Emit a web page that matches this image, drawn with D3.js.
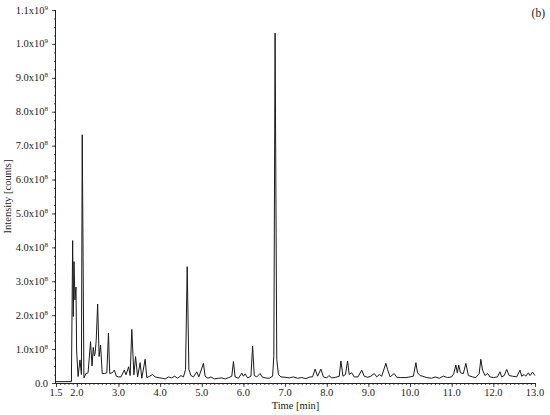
<!DOCTYPE html>
<html>
<head>
<meta charset="utf-8">
<script src="https://cdn.jsdelivr.net/npm/d3@7"></script>
<style>
html,body{margin:0;padding:0;background:#fff;}
svg{display:block;}
text{font-family:"Liberation Serif","DejaVu Serif",serif;fill:#222;}
</style>
</head>
<body>
<svg id="chart" width="550" height="415"></svg>
<script>
// Retention time [min]
const times = [1.50,1.87,1.90,1.915,1.932,1.955,1.98,1.995,2.03,2.076,2.11,2.13,2.17,2.22,2.27,2.33,2.365,2.395,2.42,2.44,2.465,2.50,2.535,2.57,2.61,2.66,2.72,2.76,2.79,2.85,2.90,2.95,3.00,3.06,3.14,3.18,3.245,3.28,3.32,3.37,3.41,3.46,3.52,3.56,3.64,3.68,3.75,3.82,3.88,3.95,4.05,4.12,4.20,4.27,4.35,4.42,4.50,4.56,4.61,4.65,4.69,4.74,4.80,4.88,4.93,5.04,5.08,5.15,5.22,5.30,5.40,5.48,5.56,5.65,5.72,5.76,5.80,5.88,5.96,6.00,6.04,6.10,6.18,6.22,6.26,6.32,6.40,6.45,6.52,6.62,6.70,6.73,6.76,6.80,6.84,6.90,7.00,7.10,7.20,7.30,7.40,7.50,7.60,7.66,7.72,7.78,7.86,7.92,8.00,8.05,8.12,8.22,8.30,8.34,8.39,8.45,8.50,8.54,8.60,8.66,8.75,8.84,8.90,8.98,9.06,9.14,9.20,9.26,9.32,9.42,9.46,9.52,9.62,9.68,9.78,9.90,10.00,10.08,10.14,10.18,10.24,10.30,10.40,10.52,10.60,10.70,10.80,10.90,11.00,11.05,11.10,11.135,11.17,11.21,11.28,11.34,11.40,11.50,11.58,11.66,11.70,11.74,11.80,11.86,11.92,12.00,12.10,12.16,12.20,12.26,12.32,12.38,12.46,12.56,12.64,12.68,12.74,12.78,12.84,12.88,12.94,13.00];
// Intensity [counts]
const intensities = [4e6,4e6,4.20e8,1.96e8,3.58e8,2.45e8,2.83e8,0.97e8,0.19e8,0.68e8,0.25e8,7.32e8,0.15e8,0.28e8,0.30e8,1.22e8,0.50e8,1.05e8,0.80e8,0.88e8,1.25e8,2.33e8,0.78e8,1.12e8,0.28e8,0.28e8,0.30e8,1.47e8,0.28e8,0.30e8,0.38e8,0.20e8,0.18e8,0.18e8,0.38e8,0.24e8,0.48e8,0.22e8,1.58e8,0.24e8,0.78e8,0.18e8,0.60e8,0.14e8,0.70e8,0.16e8,0.20e8,0.25e8,0.18e8,0.16e8,0.14e8,0.12e8,0.18e8,0.15e8,0.20e8,0.14e8,0.22e8,0.18e8,0.40e8,3.43e8,0.40e8,0.22e8,0.18e8,0.33e8,0.18e8,0.58e8,0.20e8,0.14e8,0.18e8,0.12e8,0.14e8,0.15e8,0.12e8,0.16e8,0.20e8,0.63e8,0.18e8,0.14e8,0.29e8,0.20e8,0.27e8,0.15e8,0.20e8,1.09e8,0.22e8,0.18e8,0.28e8,0.18e8,0.15e8,0.14e8,0.20e8,0.80e8,10.32e8,0.70e8,0.25e8,0.18e8,0.17e8,0.15e8,0.18e8,0.14e8,0.16e8,0.13e8,0.18e8,0.18e8,0.41e8,0.20e8,0.41e8,0.18e8,0.15e8,0.22e8,0.15e8,0.17e8,0.20e8,0.65e8,0.20e8,0.25e8,0.65e8,0.25e8,0.30e8,0.18e8,0.18e8,0.38e8,0.20e8,0.17e8,0.20e8,0.28e8,0.18e8,0.25e8,0.20e8,0.58e8,0.40e8,0.18e8,0.28e8,0.17e8,0.16e8,0.16e8,0.18e8,0.20e8,0.60e8,0.30e8,0.22e8,0.20e8,0.16e8,0.14e8,0.18e8,0.14e8,0.20e8,0.16e8,0.18e8,0.28e8,0.53e8,0.30e8,0.53e8,0.30e8,0.28e8,0.58e8,0.22e8,0.18e8,0.16e8,0.28e8,0.70e8,0.38e8,0.22e8,0.28e8,0.18e8,0.16e8,0.18e8,0.33e8,0.18e8,0.22e8,0.40e8,0.22e8,0.20e8,0.18e8,0.38e8,0.20e8,0.25e8,0.20e8,0.30e8,0.22e8,0.32e8,0.22e8];

const xMajorTicks = [1.5,2,3,4,5,6,7,8,9,10,11,12,13];
const xTickLabels = ["1.5","2.0","3.0","4.0","5.0","6.0","7.0","8.0","9.0","10.0","11.0","12.0","13.0"];
const yMajorTicks = [0,1e8,2e8,3e8,4e8,5e8,6e8,7e8,8e8,9e8,1e9,1.1e9];
const yTickMantissa = ["0.0","1.0","2.0","3.0","4.0","5.0","6.0","7.0","8.0","9.0","1.0","1.1"];
const yTickExponent = ["","8","8","8","8","8","8","8","8","8","9","9"];
const xTitle = "Time [min]";
const yTitle = "Intensity [counts]";
const panelLabel = "(b)";

const svg = d3.select("#chart");
const pLeft = 56, pRight = 535, pTop = 10, pBottom = 383;
const x = d3.scaleLinear().domain([1.5, 13]).range([pLeft, pRight]);
const y = d3.scaleLinear().domain([0, 1.1e9]).range([pBottom, pTop]);

const ink = "#222";

// minor ticks
const xMinor = d3.range(15, 131).map(d => d / 10);
const yMinor = d3.range(0, 45).map(d => d * 2.5e7);

const xAxisMinor = d3.axisBottom(x).tickValues(xMinor).tickSize(2).tickFormat("");
const xAxisMajor = d3.axisBottom(x).tickValues(xMajorTicks).tickSize(4).tickFormat("");
const yAxisMinor = d3.axisLeft(y).tickValues(yMinor).tickSize(2).tickFormat("");
const yAxisMajor = d3.axisLeft(y).tickValues(yMajorTicks).tickSize(4).tickFormat("");

function style(g){
  g.selectAll("path.domain").attr("stroke", ink).attr("stroke-width", 1);
  g.selectAll(".tick line").attr("stroke", ink).attr("stroke-width", 0.8);
}
svg.append("g").attr("transform", `translate(0,${pBottom})`).call(xAxisMinor).call(style).select("path.domain").attr("d", `M${pLeft},0.5H${pRight}`);
svg.append("g").attr("transform", `translate(0,${pBottom})`).call(xAxisMajor).call(style).select("path.domain").remove();
svg.append("g").attr("transform", `translate(${pLeft},0)`).call(yAxisMinor).call(style).select("path.domain").attr("d", `M-0.5,${pTop}V${pBottom}`);
svg.append("g").attr("transform", `translate(${pLeft},0)`).call(yAxisMajor).call(style).select("path.domain").remove();

// x tick labels
svg.append("g").selectAll("text").data(xMajorTicks).join("text")
  .attr("x", d => x(d)).attr("y", pBottom + 13)
  .attr("text-anchor", "middle").attr("font-size", 10.5)
  .text((d, i) => xTickLabels[i]);

// y tick labels
const yl = svg.append("g").selectAll("text").data(yMajorTicks).join("text")
  .attr("x", pLeft - 8).attr("y", d => y(d) + 3.5)
  .attr("text-anchor", "end").attr("font-size", 10.5);
yl.each(function(d, i){
  const t = d3.select(this);
  if (yTickExponent[i] === "") { t.text(yTickMantissa[i]); return; }
  t.append("tspan").text(yTickMantissa[i] + "x10");
  t.append("tspan").attr("dy", -4).attr("font-size", 7).text(yTickExponent[i]);
});

// axis titles
svg.append("text").attr("x", (pLeft + pRight) / 2).attr("y", 409)
  .attr("text-anchor", "middle").attr("font-size", 10.5).text(xTitle);
svg.append("text").attr("transform", `translate(11,${(pTop + pBottom) / 2}) rotate(-90)`)
  .attr("text-anchor", "middle").attr("font-size", 10.5).text(yTitle);

// panel label
svg.append("text").attr("x", 545).attr("y", 17).attr("text-anchor", "end")
  .attr("font-size", 11.5).text(panelLabel);

// trace
const data = times.map((t, i) => [t, intensities[i]]);
const line = d3.line().x(d => x(d[0])).y(d => y(d[1]));
svg.append("path").datum(data).attr("d", line)
  .attr("fill", "none").attr("stroke", "#1a1a1a").attr("stroke-width", 1)
  .attr("stroke-linejoin", "round");
</script>
</body>
</html>
